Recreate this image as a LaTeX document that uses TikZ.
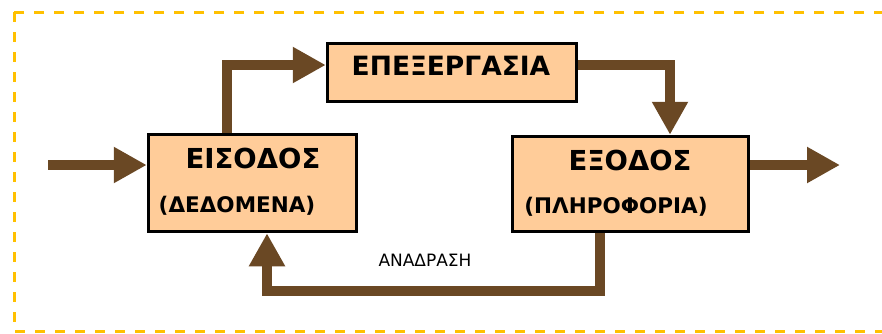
\documentclass[tikz,border=0pt]{standalone}
\usepackage{fontspec}
\setmainfont{DejaVu Sans}
\usetikzlibrary{arrows.meta}
\definecolor{flowbrown}{RGB}{106,72,36}
\definecolor{boxfill}{RGB}{255,204,153}
\definecolor{frameyellow}{RGB}{255,192,0}
\tikzset{
  block/.style={draw=black, fill=boxfill, line width=3.5pt, inner sep=0pt, anchor=center},
  flow/.style={draw=flowbrown, line width=10.5pt, line join=miter,
    -{Triangle[length=33pt 0 0, width=34pt 0 0]}},
  bigtxt/.style={inner sep=0pt, font=\bfseries\fontsize{27.5}{30}\selectfont},
  midtxt/.style={inner sep=0pt, font=\bfseries\fontsize{21.5}{24}\selectfont},
  smalltxt/.style={inner sep=0pt, font=\fontsize{17}{20}\selectfont},
}
\begin{document}
\begin{tikzpicture}[x=1pt, y=-1pt]
\useasboundingbox (0,0) rectangle (882,333);
\clip (0,0) rectangle (882,333);
% dashed frame
\draw[frameyellow, line width=3pt, dash pattern=on 10pt off 10pt] (14,12) rectangle (920,331);
% blocks
\node[block, minimum width=208pt, minimum height=97pt] (eis) at (252.5,183) {};
\node[block, minimum width=236pt, minimum height=95pt] (exo) at (630.5,184) {};
\node[block, minimum width=249pt, minimum height=58pt] (epe) at (452,72.5) {};
% texts
\node[bigtxt] (eist) at (253,158) {ΕΙΣΟΔΟΣ};
\node[midtxt] (eisd) at (237,206) {(ΔΕΔΟΜΕΝΑ)};
\node[bigtxt] (exot) at (630,160) {ΕΞΟΔΟΣ};
\node[midtxt] (exod) at (616,207) {(ΠΛΗΡΟΦΟΡΙΑ)};
\node[inner sep=0pt, font=\bfseries\fontsize{26.5}{29}\selectfont] (epet) at (451,66) {ΕΠΕΞΕΡΓΑΣΙΑ};
\node[smalltxt] (fb) at (425,260) {ΑΝΑΔΡΑΣΗ};
% helper coordinates
\coordinate (in1) at (48,165);
\coordinate (out1) at (840,165);
\coordinate (c1) at (227,65);
\coordinate (c2) at (670,65);
\coordinate (c3) at (600,291);
\coordinate (c4) at (267,291);
% connectors
\draw[flow] (in1) -- (eis.west |- in1);
\draw[flow] (exo.east |- out1) -- (out1);
\draw[flow] (eis.north -| c1) |- (epe.west |- c1);
\draw[flow] (epe.east |- c2) -| (exo.north -| c2);
\draw[flow] (exo.south -| c3) |- (c4) -- (eis.south -| c4);
\end{tikzpicture}
\end{document}
